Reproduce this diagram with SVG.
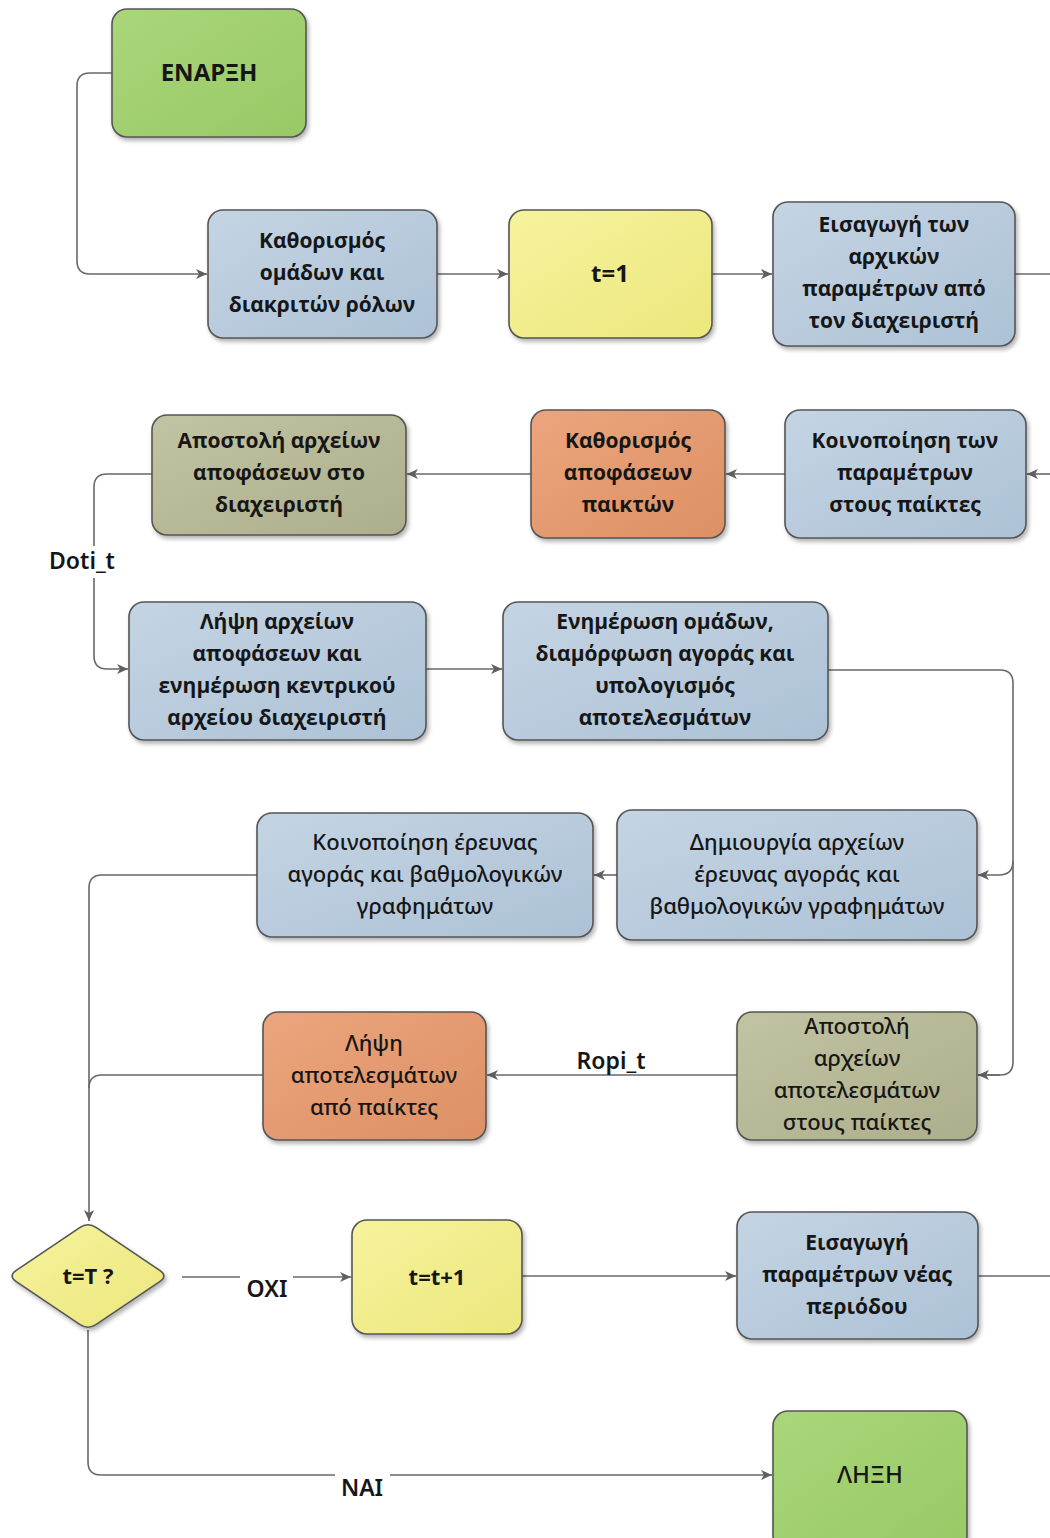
<svg xmlns="http://www.w3.org/2000/svg" width="1050" height="1538" viewBox="0 0 1050 1538">
  <defs>
    <linearGradient id="gBlue" x1="0" y1="0" x2="1" y2="1">
      <stop offset="0" stop-color="#c4d4e3"/>
      <stop offset="1" stop-color="#adc2d6"/>
    </linearGradient>
    <linearGradient id="gGreen" x1="0" y1="0" x2="1" y2="1">
      <stop offset="0" stop-color="#aad67a"/>
      <stop offset="1" stop-color="#98c966"/>
    </linearGradient>
    <linearGradient id="gYellow" x1="0" y1="0" x2="1" y2="1">
      <stop offset="0" stop-color="#f6f39d"/>
      <stop offset="1" stop-color="#ece77d"/>
    </linearGradient>
    <linearGradient id="gOrange" x1="0" y1="0" x2="1" y2="1">
      <stop offset="0" stop-color="#eba57d"/>
      <stop offset="1" stop-color="#dd9064"/>
    </linearGradient>
    <linearGradient id="gOlive" x1="0" y1="0" x2="1" y2="1">
      <stop offset="0" stop-color="#c2c3a2"/>
      <stop offset="1" stop-color="#adae8b"/>
    </linearGradient>
    <filter id="shadow" x="-10%" y="-10%" width="125%" height="130%">
      <feDropShadow dx="2" dy="3" stdDeviation="2" flood-color="#000" flood-opacity="0.3"/>
    </filter>
    <marker id="arrow" markerUnits="userSpaceOnUse" markerWidth="12" markerHeight="10" refX="11" refY="5" orient="auto">
      <path d="M0,0 L11,5 L0,10 L3,5 Z" fill="#5f5f5f"/>
    </marker>
  </defs>
  <style>
    .box { stroke: #555; stroke-width: 1.6; filter: url(#shadow); }
    .blue { fill: url(#gBlue); }
    .green { fill: url(#gGreen); }
    .yellow { fill: url(#gYellow); }
    .orange { fill: url(#gOrange); }
    .olive { fill: url(#gOlive); }
    .wire { fill: none; stroke: #686868; stroke-width: 1.6; }
    .arr { marker-end: url(#arrow); }
    text { fill: #161616; text-anchor: middle; }
    .t { font-family: "Open Sans", "Noto Sans", sans-serif; font-weight: 700; font-size: 21px; }
    .n { font-family: "Noto Sans", "Open Sans", sans-serif; font-weight: 500; font-size: 22px; }
    .big { font-family: "Open Sans", "Noto Sans", sans-serif; font-weight: 700; font-size: 24px; }
    .lbl { font-family: "Noto Sans", "Open Sans", sans-serif; font-weight: 600; font-size: 23px; }
  </style>

  <rect width="1050" height="1538" fill="#ffffff"/>

  <!-- connectors -->
  <g id="connectors">
    <path class="wire arr" d="M112,73 H90 Q77,73 77,86 V261 Q77,274 90,274 H207"/>
    <path class="wire arr" d="M437,274 H508"/>
    <path class="wire arr" d="M712,274 H772"/>
    <path class="wire" d="M1015,274 H1050"/>
    <path class="wire arr" d="M1050,474 H1027"/>
    <path class="wire arr" d="M785,474 H726"/>
    <path class="wire arr" d="M531,474 H407"/>
    <path class="wire arr" d="M152,474 H107 Q94,474 94,487 V656 Q94,669 107,669 H128"/>
    <path class="wire arr" d="M426,669 H502"/>
    <path class="wire" d="M828,670 H1000 Q1013,670 1013,683 V1062 Q1013,1075 1000,1075 H978"/>
    <path class="wire arr" d="M1000,1075 H978"/>
    <path class="wire arr" d="M1013,861 Q1013,875 999,875 H978"/>
    <path class="wire arr" d="M617,875 H594"/>
    <path class="wire arr" d="M257,875 H102 Q89,875 89,888 V1221"/>
    <path class="wire" d="M263,1075 H102 Q89,1075 89,1088"/>
    <path class="wire arr" d="M737,1075 H487"/>
    <path class="wire arr" d="M182,1277 H351"/>
    <path class="wire arr" d="M522,1276 H736"/>
    <path class="wire" d="M978,1276 H1050"/>
    <path class="wire arr" d="M88,1330 V1462 Q88,1475 101,1475 H772"/>
    <!-- labels sit on a white patch that interrupts the line -->
    <rect x="36" y="546" width="94" height="32" fill="#ffffff"/>
    <text class="lbl" x="82" y="569">Doti_t</text>
    <rect x="564" y="1045" width="96" height="29" fill="#ffffff"/>
    <text class="lbl" x="611" y="1069">Ropi_t</text>
    <rect x="240" y="1272" width="53" height="30" fill="#ffffff"/>
    <text class="lbl" x="267" y="1297">OXI</text>
    <rect x="335" y="1470" width="55" height="30" fill="#ffffff"/>
    <text class="lbl" x="362" y="1496">NAI</text>
  </g>

  <g id="start">
    <rect class="box green" x="112" y="9" width="194" height="128" rx="15"/>
    <text class="big" x="209" y="81">ΕΝΑΡΞΗ</text>
  </g>

  <g id="define-teams">
    <rect class="box blue" x="208" y="210" width="229" height="128" rx="15"/>
    <text class="t" x="322" y="248">Καθορισμός</text>
    <text class="t" x="322" y="280">ομάδων και</text>
    <text class="t" x="322" y="312">διακριτών ρόλων</text>
  </g>

  <g id="t-init">
    <rect class="box yellow" x="509" y="210" width="203" height="128" rx="15"/>
    <text class="big" x="610" y="282">t=1</text>
  </g>

  <g id="initial-params">
    <rect class="box blue" x="773" y="202" width="242" height="144" rx="15"/>
    <text class="t" x="894" y="232">Εισαγωγή των</text>
    <text class="t" x="894" y="264">αρχικών</text>
    <text class="t" x="894" y="296">παραμέτρων από</text>
    <text class="t" x="894" y="328">τον διαχειριστή</text>
  </g>

  <g id="notify-params">
    <rect class="box blue" x="785" y="410" width="241" height="128" rx="15"/>
    <text class="t" x="905" y="448">Κοινοποίηση των</text>
    <text class="t" x="905" y="480">παραμέτρων</text>
    <text class="t" x="905" y="512">στους παίκτες</text>
  </g>

  <g id="player-decisions">
    <rect class="box orange" x="531" y="410" width="194" height="128" rx="15"/>
    <text class="t" x="628" y="448">Καθορισμός</text>
    <text class="t" x="628" y="480">αποφάσεων</text>
    <text class="t" x="628" y="512">παικτών</text>
  </g>

  <g id="send-decisions">
    <rect class="box olive" x="152" y="415" width="254" height="120" rx="15"/>
    <text class="t" x="279" y="448">Αποστολή αρχείων</text>
    <text class="t" x="279" y="480">αποφάσεων στο</text>
    <text class="t" x="279" y="512">διαχειριστή</text>
  </g>

  <g id="receive-decisions">
    <rect class="box blue" x="129" y="602" width="297" height="138" rx="15"/>
    <text class="t" x="277" y="629">Λήψη αρχείων</text>
    <text class="t" x="277" y="661">αποφάσεων και</text>
    <text class="t" x="277" y="693">ενημέρωση κεντρικού</text>
    <text class="t" x="277" y="725">αρχείου διαχειριστή</text>
  </g>

  <g id="compute-results">
    <rect class="box blue" x="503" y="602" width="325" height="138" rx="15"/>
    <text class="t" x="665" y="629">Ενημέρωση ομάδων,</text>
    <text class="t" x="665" y="661">διαμόρφωση αγοράς και</text>
    <text class="t" x="665" y="693">υπολογισμός</text>
    <text class="t" x="665" y="725">αποτελεσμάτων</text>
  </g>

  <g id="create-reports">
    <rect class="box blue" x="617" y="810" width="360" height="130" rx="15"/>
    <text class="n" x="797" y="850">Δημιουργία αρχείων</text>
    <text class="n" x="797" y="882">έρευνας αγοράς και</text>
    <text class="n" x="797" y="914">βαθμολογικών γραφημάτων</text>
  </g>

  <g id="publish-reports">
    <rect class="box blue" x="257" y="813" width="336" height="124" rx="15"/>
    <text class="n" x="425" y="850">Κοινοποίηση έρευνας</text>
    <text class="n" x="425" y="882">αγοράς και βαθμολογικών</text>
    <text class="n" x="425" y="914">γραφημάτων</text>
  </g>

  <g id="send-results">
    <rect class="box olive" x="737" y="1012" width="240" height="128" rx="15"/>
    <text class="n" x="857" y="1034">Αποστολή</text>
    <text class="n" x="857" y="1066">αρχείων</text>
    <text class="n" x="857" y="1098">αποτελεσμάτων</text>
    <text class="n" x="857" y="1130">στους παίκτες</text>
  </g>

  <g id="receive-results">
    <rect class="box orange" x="263" y="1012" width="223" height="128" rx="15"/>
    <text class="n" x="374" y="1051">Λήψη</text>
    <text class="n" x="374" y="1083">αποτελεσμάτων</text>
    <text class="n" x="374" y="1115">από παίκτες</text>
  </g>

  <g id="decision">
    <path class="box yellow" d="M16.3,1270.4 L79.7,1227.6 Q88,1222 96.3,1227.6 L159.7,1270.4 Q168,1276 159.7,1281.6 L96.3,1324.4 Q88,1330 79.7,1324.4 L16.3,1281.6 Q8,1276 16.3,1270.4 Z"/>
    <text class="big" x="88" y="1284" style="font-size:22px">t=T ?</text>
  </g>

  <g id="t-next">
    <rect class="box yellow" x="352" y="1220" width="170" height="114" rx="15"/>
    <text class="big" x="437" y="1285" style="font-size:22px">t=t+1</text>
  </g>

  <g id="new-period-params">
    <rect class="box blue" x="737" y="1212" width="241" height="127" rx="15"/>
    <text class="t" x="857" y="1250">Εισαγωγή</text>
    <text class="t" x="857" y="1282">παραμέτρων νέας</text>
    <text class="t" x="857" y="1314">περιόδου</text>
  </g>

  <g id="end">
    <rect class="box green" x="773" y="1411" width="194" height="140" rx="15"/>
    <text class="n" x="870" y="1483" style="font-size:24px">ΛΗΞΗ</text>
  </g>
</svg>
